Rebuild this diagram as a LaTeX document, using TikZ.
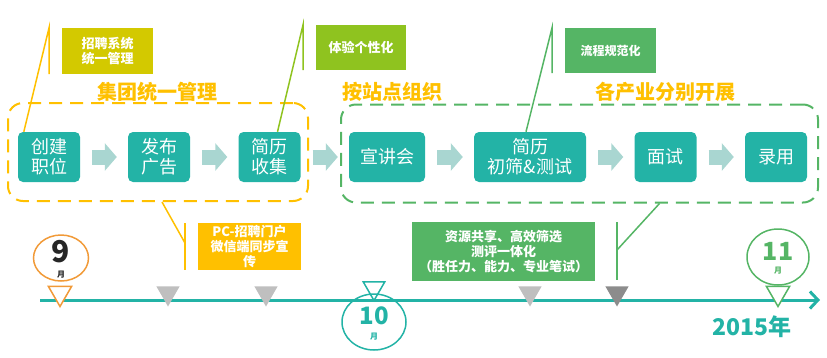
\documentclass[tikz,border=0pt]{standalone}
\usepackage{fontspec}
\setmainfont{Noto Sans CJK SC}
\usetikzlibrary{positioning, arrows.meta, shapes.geometric}
\definecolor{stepteal}{RGB}{35, 179, 166}
\definecolor{flowlight}{RGB}{169, 214, 209}
\definecolor{titleorange}{RGB}{255, 192, 0}
\definecolor{noteolive}{RGB}{211, 201, 0}
\definecolor{notelime}{RGB}{143, 195, 31}
\definecolor{notegreen}{RGB}{85, 181, 101}
\definecolor{monthorange}{RGB}{241, 154, 56}
\definecolor{ticklight}{RGB}{191, 191, 191}
\definecolor{tickdark}{RGB}{140, 140, 140}
\tikzset{
    stepbox/.style={rectangle, rounded corners=5pt, fill=stepteal, text=white, minimum width=62pt, minimum height=50pt, inner sep=0pt, align=center, font=\fontsize{18}{20}\selectfont},
    flowarrow/.style={-{Triangle[width=27pt, length=12pt]}, line width=15pt, draw=flowlight, shorten <=12pt, shorten >=11pt},
    groupbox/.style={rectangle, rounded corners=15pt, line width=2pt, dash pattern=on 13pt off 8pt, minimum height=98pt, inner sep=0pt},
    grouptitle/.style={text=titleorange, font=\fontsize{20}{22}\selectfont\bfseries},
    notebox/.style={rectangle, text=white, inner sep=0pt, align=center, font=\fontsize{13}{15}\selectfont\bfseries},
    noteline/.style={line width=1.5pt},
    timeline/.style={-{Straight Barb[length=8pt, width=17pt, line width=3pt]}, line width=3pt, draw=stepteal},
    tick/.style={regular polygon, regular polygon sides=3, shape border rotate=180, minimum size=27pt, inner sep=0pt},
    monthring/.style={ellipse, line width=1.5pt, inner sep=0pt},
    monthnum/.style={font=\fontsize{24}{24}\selectfont\bfseries, inner sep=0pt},
    monthword/.style={font=\fontsize{8}{8}\selectfont\bfseries, inner sep=0pt}
}
\begin{document}
\begin{tikzpicture}[x=1pt, y=-1pt]
    \useasboundingbox (0,0) rectangle (827,357);

    % dashed groups and their titles
    \node[groupbox, draw=titleorange, minimum width=300pt] (grp1) at (158,152) {};
    \node[groupbox, draw=notegreen, minimum width=477pt] (grp2) at (579.5,153.5) {};
    \node[grouptitle] (ttl1) at (157,92) {集团统一管理};
    \node[grouptitle] (ttl2) at (392,92) {按站点组织};
    \node[grouptitle] (ttl3) at (665,92) {各产业分别开展};

    % process steps
    \node[stepbox] (s1) at (49,157) {创建\\职位};
    \node[stepbox] (s2) at (159,157) {发布\\广告};
    \node[stepbox] (s3) at (269.5,157) {简历\\收集};
    \node[stepbox, minimum width=76pt] (s4) at (387,157) {宣讲会};
    \node[stepbox, minimum width=112pt] (s5) at (530,157) {简历\\初筛\&测试};
    \node[stepbox] (s6) at (665.5,157) {面试};
    \node[stepbox] (s7) at (776,157) {录用};

    \foreach \a/\b in {s1/s2, s2/s3, s3/s4, s4/s5, s5/s6, s6/s7}
        \draw[flowarrow] (\a) -- (\b);

    % notes above
    \node[notebox, fill=noteolive, minimum width=91pt, minimum height=46pt] (n1) at (107.5,51) {招聘系统\\统一管理};
    \node[notebox, fill=notelime, minimum width=90pt, minimum height=45pt] (n2) at (361,47.5) {体验个性化};
    \node[notebox, fill=notegreen, minimum width=91pt, minimum height=45pt, font=\fontsize{12}{14}\selectfont\bfseries] (n3) at (610.5,50.5) {流程规范化};
    \coordinate (k1) at (49,28);
    \coordinate (k2) at (303,25);
    \coordinate (k3) at (552,28);
    \draw[noteline, titleorange] (49,74) -- (k1) -- ([xshift=6pt]s1.north west);
    \draw[noteline, notelime] (303,70) -- (k2) -- ([xshift=8pt]s3.north);
    \draw[noteline, notegreen] (552,73) -- (k3) -- ([xshift=-4pt]s5.north);

    % notes below
    \node[notebox, fill=titleorange, minimum width=103pt, minimum height=47pt] (n4) at (249.5,246.5) {PC-招聘门户\\微信端同步宣\\传};
    \node[notebox, fill=notegreen, minimum width=183pt, minimum height=59pt] (n5) at (503.5,251.5) {资源共享、高效筛选\\测评一体化\\（胜任力、能力、专业笔试）};
    \coordinate (k4) at (185,243);
    \coordinate (k5) at (617,250);
    \draw[noteline, titleorange] (185,223) -- (185,270);
    \draw[noteline, titleorange] (k4) -- ([xshift=4pt]grp1.south);
    \draw[noteline, notegreen] (617,222) -- (617,280);
    \draw[noteline, notegreen] (k5) -- ([xshift=80pt]grp2.south);

    % time line
    \coordinate (tl0) at (40,300);
    \coordinate (tl1) at (820,300);
    \draw[timeline] (tl0) -- (tl1);

    \node[tick, fill=white, draw=monthorange, line width=1.5pt] (t1) at (60,293) {};
    \node[tick, fill=ticklight] (t2) at (168,293) {};
    \node[tick, fill=ticklight] (t3) at (266,293) {};
    \node[tick, fill=white, draw=stepteal, line width=1.5pt, minimum size=25pt] (t4) at (374,288) {};
    \node[tick, fill=ticklight] (t5) at (530,293) {};
    \node[tick, fill=tickdark] (t6) at (617,293) {};
    \node[tick, fill=white, draw=notegreen, line width=1.5pt] (t7) at (778,293) {};

    % months
    \node[monthring, draw=monthorange, minimum width=55pt, minimum height=46pt] (m9) at (61,258) {};
    \node[monthnum, text=black!85, font=\fontsize{30}{30}\selectfont\bfseries] (m9n) at (61,252) {9};
    \node[monthword, text=black!85] (m9w) at (61,275) {月};
    \node[monthring, draw=stepteal, minimum width=64pt, minimum height=56pt] (m10) at (374,322) {};
    \node[monthnum, text=stepteal] (m10n) at (374,316) {10};
    \node[monthword, text=stepteal] (m10w) at (374,337) {月};
    \node[monthring, draw=notegreen, minimum width=62pt, minimum height=56pt] (m11) at (778,257) {};
    \node[monthnum, text=notegreen, font=\fontsize{25}{25}\selectfont\bfseries] (m11n) at (778,251) {11};
    \node[monthword, text=notegreen] (m11w) at (778,271) {月};

    \node[text=stepteal, font=\fontsize{23}{23}\selectfont\bfseries] (year) at (752,327) {2015年};
\end{tikzpicture}
\end{document}
